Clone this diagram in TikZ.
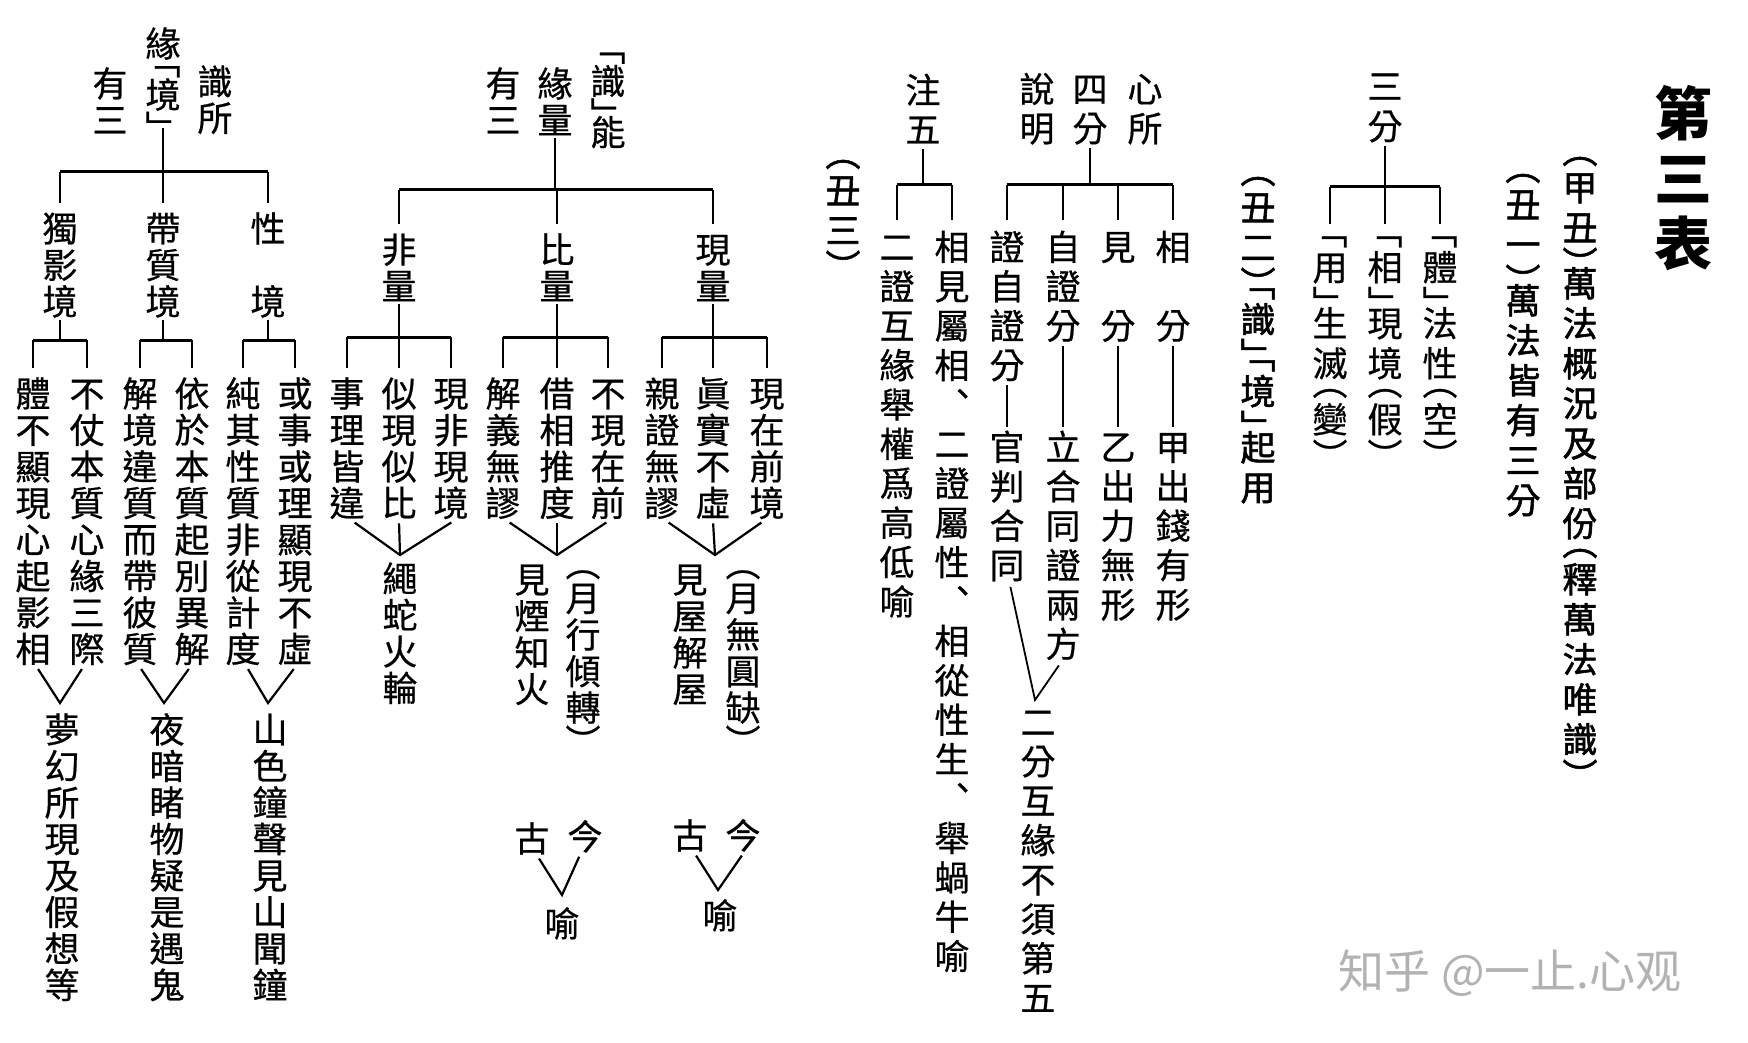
\documentclass[tikz,border=0pt]{standalone}
\usepackage{fontspec}
\newfontfamily\cjk[FakeBold=0.6]{Noto Sans CJK TC}
\newfontfamily\cjkt{Noto Sans CJK TC}
\newfontfamily\cjkh[FakeBold=1.6]{Noto Sans CJK TC}
\newfontfamily\cjksc{Noto Sans CJK SC}

% vertical text: one cell per character, brackets in half cells
\newdimen\vp \vp=36.5pt
\def\vLB{﹁}\def\vRB{﹂}\def\vLP{︵}\def\vRP{︶}
\makeatletter
\newcommand\fullcell{\hbox to 1em{\hss\vrule width 0pt height \dimexpr.5\vp+.38em\relax depth \dimexpr.5\vp-.38em\relax\vch\hss}}
\newcommand\halfcell[1]{\hbox to 1em{\hss\vrule width 0pt height .2\vp depth .2\vp\smash{\raisebox{#1}{\vch}}\hss}}
\newcommand\vcell{%
	\ifx\vch\vLB\halfcell{-.15em}\else
	\ifx\vch\vRB\halfcell{-.6em}\else
	\ifx\vch\vLP\halfcell{-.12em}\else
	\ifx\vch\vRP\halfcell{-.62em}\else
	\fullcell\fi\fi\fi\fi}
\newcommand\vt[1]{\vbox{\offinterlineskip\@tfor\vch:=#1\do{\vcell}}}
\makeatother

\begin{document}
\begin{tikzpicture}[
	x=1pt, y=-1pt,
	tx/.style = {font=\cjk\fontsize{35}{35}\selectfont, inner sep=0pt, anchor=north},
	hd/.style = {font=\cjkh\fontsize{35}{35}\selectfont, inner sep=0pt, anchor=north},
	tt/.style = {font=\cjkt\bfseries\fontsize{58}{58}\selectfont, inner sep=0pt, anchor=north},
	pitch/.style = {execute at begin node={\vp=#1}},
	st/.style = {line width=1.6pt},
	br/.style = {line width=3pt},
	dr/.style = {line width=1.6pt, shorten >=7pt},
	ve/.style = {line width=2.2pt, shorten <=2pt, shorten >=2pt}
	]
	
	\fill[white] (0, 0) rectangle (1748, 1043);
	\useasboundingbox (0, 0) rectangle (1748, 1043);
	
	% ===== ===== ===== ===== =====
	
	% Nodes
	\node[tx]	(Ayuan)	at	(163, 25)	{\vt{緣﹁境﹂}};
	\node[tx]	(Ashi)	at	(215, 63)	{\vt{識所}};
	\node[tx]	(Ayou)	at	(110, 65)	{\vt{有三}};
	\coordinate	(Ab)	at	(163, 172);
	
	\node[tx]	(Adu)	at	(60, 210)	{\vt{獨影境}};
	\node[tx]	(Adai)	at	(163, 210)	{\vt{帶質境}};
	\node[tx]	(Axing)	at	(268, 210)	{\vt{性　境}};
	\coordinate	(Ab1)	at	(60, 340);
	\coordinate	(Ab2)	at	(163, 340);
	\coordinate	(Ab3)	at	(268, 340);
	
	\node[tx]	(A11)	at	(33, 375)	{\vt{體不顯現心起影相}};
	\node[tx]	(A12)	at	(87, 375)	{\vt{不仗本質心緣三際}};
	\node[tx]	(A21)	at	(140, 375)	{\vt{解境違質而帶彼質}};
	\node[tx]	(A22)	at	(192, 375)	{\vt{依於本質起別異解}};
	\node[tx]	(A31)	at	(243, 375)	{\vt{純其性質非從計度}};
	\node[tx]	(A32)	at	(295, 375)	{\vt{或事或理顯現不虛}};
	
	\coordinate	(A1v)	at	(60, 703);
	\coordinate	(A2v)	at	(164, 703);
	\coordinate	(A3v)	at	(268, 703);
	\node[tx]	(A1c)	at	(62, 711)	{\vt{夢幻所現及假想等}};
	\node[tx]	(A2c)	at	(167, 711)	{\vt{夜暗睹物疑是遇鬼}};
	\node[tx]	(A3c)	at	(270, 711)	{\vt{山色鐘聲見山聞鐘}};
	
	% Lines
	\draw[st]	(Ayuan.south)	--	(Ab);
	\draw[br]	(Ab -| Adu.north)	--	(Ab -| Axing.north);
	\draw[dr]	(Ab -| Adu.north)	--	(Adu.north);
	\draw[dr]	(Ab)	--	(Adai.north);
	\draw[dr]	(Ab -| Axing.north)	--	(Axing.north);
	
	\draw[st]	(Adu.south)	--	(Ab1);
	\draw[st]	(Adai.south)	--	(Ab2);
	\draw[st]	(Axing.south)	--	(Ab3);
	\draw[br]	(Ab1 -| A11.north)	--	(Ab1 -| A12.north);
	\draw[br]	(Ab2 -| A21.north)	--	(Ab2 -| A22.north);
	\draw[br]	(Ab3 -| A31.north)	--	(Ab3 -| A32.north);
	\draw[dr]	(Ab1 -| A11.north)	--	(A11.north);
	\draw[dr]	(Ab1 -| A12.north)	--	(A12.north);
	\draw[dr]	(Ab2 -| A21.north)	--	(A21.north);
	\draw[dr]	(Ab2 -| A22.north)	--	(A22.north);
	\draw[dr]	(Ab3 -| A31.north)	--	(A31.north);
	\draw[dr]	(Ab3 -| A32.north)	--	(A32.north);
	
	\draw[ve]	([xshift=4pt]A11.south)	--	(A1v)	--	([xshift=-4pt]A12.south);
	\draw[ve]	(A21.south)	--	(A2v)	--	([xshift=-2pt]A22.south);
	\draw[ve]	([xshift=4pt]A31.south)	--	(A3v)	--	(A32.south);
	
	
	
	
	
	% ===== ===== ===== ===== =====
	
	% Nodes
	\node[tx]	(Bshi)	at	(608, 48)	{\vt{﹁識﹂能}};
	\node[tx]	(Byuan)	at	(555, 65)	{\vt{緣量}};
	\node[tx]	(Byou)	at	(503, 65)	{\vt{有三}};
	\coordinate	(Bb)	at	(555, 190);
	
	\node[tx]	(Bfei)	at	(399, 231)	{\vt{非量}};
	\node[tx]	(Bbi)	at	(557, 231)	{\vt{比量}};
	\node[tx]	(Bxian)	at	(713, 231)	{\vt{現量}};
	\coordinate	(Bb1)	at	(399, 337);
	\coordinate	(Bb2)	at	(557, 337);
	\coordinate	(Bb3)	at	(713, 337);
	
	\node[tx]	(B11)	at	(347, 375)	{\vt{事理皆違}};
	\node[tx]	(B12)	at	(399, 375)	{\vt{似現似比}};
	\node[tx]	(B13)	at	(451, 375)	{\vt{現非現境}};
	\node[tx]	(B21)	at	(503, 375)	{\vt{解義無謬}};
	\node[tx]	(B22)	at	(557, 375)	{\vt{借相推度}};
	\node[tx]	(B23)	at	(608, 375)	{\vt{不現在前}};
	\node[tx]	(B31)	at	(662, 375)	{\vt{親證無謬}};
	\node[tx]	(B32)	at	(713, 375)	{\vt{眞實不虛}};
	\node[tx]	(B33)	at	(767, 375)	{\vt{現在前境}};
	
	\coordinate	(Bv1)	at	(400, 555);
	\coordinate	(Bv2)	at	(557, 555);
	\coordinate	(Bv3)	at	(715, 555);
	\node[tx]	(B1c)	at	(400, 560)	{\vt{繩蛇火輪}};
	\node[tx]	(B2c)	at	(532, 561)	{\vt{見煙知火}};
	\node[tx]	(B2d)	at	(583, 565)	{\vt{︵月行傾轉︶}};
	\node[tx]	(B3c)	at	(690, 561)	{\vt{見屋解屋}};
	\node[tx]	(B3d)	at	(743, 565)	{\vt{︵月無圓缺︶}};
	
	\node[tx]	(Bgu1)	at	(532, 820)	{\vt{古}};
	\node[tx]	(Bjin1)	at	(585, 818)	{\vt{今}};
	\coordinate	(Byv1)	at	(562, 895);
	\node[tx]	(Byu1)	at	(562, 905)	{\vt{喻}};
	\node[tx]	(Bgu2)	at	(690, 817)	{\vt{古}};
	\node[tx]	(Bjin2)	at	(743, 817)	{\vt{今}};
	\coordinate	(Byv2)	at	(718, 890);
	\node[tx]	(Byu2)	at	(720, 897)	{\vt{喻}};
	
	% Lines
	\draw[st]	(Byuan.south)	--	(Bb);
	\draw[br]	(Bb -| Bfei.north)	--	(Bb -| Bxian.north);
	\draw[dr]	(Bb -| Bfei.north)	--	(Bfei.north);
	\draw[dr]	(Bb -| Bbi.north)	--	(Bbi.north);
	\draw[dr]	(Bb -| Bxian.north)	--	(Bxian.north);
	
	\draw[st]	(Bfei.south)	--	(Bb1);
	\draw[st]	(Bbi.south)	--	(Bb2);
	\draw[st]	(Bxian.south)	--	(Bb3);
	\draw[br]	(Bb1 -| B11.north)	--	(Bb1 -| B13.north);
	\draw[br]	(Bb2 -| B21.north)	--	(Bb2 -| B23.north);
	\draw[br]	(Bb3 -| B31.north)	--	(Bb3 -| B33.north);
	\draw[dr]	(Bb1 -| B11.north)	--	(B11.north);
	\draw[dr]	(Bb1)	--	(B12.north);
	\draw[dr]	(Bb1 -| B13.north)	--	(B13.north);
	\draw[dr]	(Bb2 -| B21.north)	--	(B21.north);
	\draw[dr]	(Bb2)	--	(B22.north);
	\draw[dr]	(Bb2 -| B23.north)	--	(B23.north);
	\draw[dr]	(Bb3 -| B31.north)	--	(B31.north);
	\draw[dr]	(Bb3)	--	(B32.north);
	\draw[dr]	(Bb3 -| B33.north)	--	(B33.north);
	
	\draw[ve]	([xshift=6pt]B11.south)	--	(Bv1)	--	([xshift=2pt]B13.south);
	\draw[ve, shorten >=0pt]	(B12.south)	--	(Bv1);
	\draw[ve]	([xshift=5pt]B21.south)	--	(Bv2)	--	(B23.south);
	\draw[ve, shorten >=0pt]	(B22.south)	--	(Bv2);
	\draw[ve]	([xshift=5pt]B31.south)	--	(Bv3)	--	([xshift=-4pt]B33.south);
	\draw[ve, shorten >=0pt]	(B32.south)	--	(Bv3);
	
	\draw[ve]	([xshift=6pt]Bgu1.south)	--	(Byv1)	--	([xshift=-5pt]Bjin1.south);
	\draw[ve]	([xshift=5pt]Bgu2.south)	--	(Byv2)	--	(Bjin2.south);
	
	
	
	
	
	% ===== ===== ===== ===== =====
	
	% Nodes
	\node[hd, pitch=40pt]	(H3)	at	(843, 154)	{\vt{︵丑三︶}};
	
	\node[tx, pitch=39.4pt]	(Czhu)	at	(923, 70)	{\vt{注五}};
	\node[tx, pitch=39.4pt]	(Cshuo)	at	(1037, 69)	{\vt{說明}};
	\node[tx, pitch=39.4pt]	(Csi)	at	(1090, 69)	{\vt{四分}};
	\node[tx, pitch=39.4pt]	(Cxin)	at	(1145, 69)	{\vt{心所}};
	\coordinate	(Cb1)	at	(923, 185);
	\coordinate	(Cb2)	at	(1090, 185);
	
	\node[tx, pitch=39.4pt]	(C11)	at	(897, 227)	{\vt{二證互緣舉權爲高低喻}};
	\node[tx, pitch=39.4pt]	(C12)	at	(952, 227)	{\vt{相見屬相︑二證屬性︑相從性生︑舉蝸牛喻}};
	\node[tx, pitch=39.4pt]	(C21)	at	(1007, 227)	{\vt{證自證分}};
	\node[tx, pitch=39.4pt]	(C22)	at	(1063, 227)	{\vt{自證分}};
	\node[tx, pitch=39.4pt]	(C23)	at	(1118, 227)	{\vt{見　分}};
	\node[tx, pitch=39.4pt]	(C24)	at	(1173, 227)	{\vt{相　分}};
	
	\node[tx, pitch=39.4pt]	(C21b)	at	(1007, 427)	{\vt{官判合同}};
	\node[tx, pitch=39.4pt]	(C22b)	at	(1063, 427)	{\vt{立合同證兩方}};
	\node[tx, pitch=39.4pt]	(C23b)	at	(1118, 427)	{\vt{乙出力無形}};
	\node[tx, pitch=39.4pt]	(C24b)	at	(1173, 427)	{\vt{甲出錢有形}};
	
	\coordinate	(Cv)	at	(1035, 700);
	\node[tx, pitch=39.4pt]	(C2c)	at	(1038, 702)	{\vt{二分互緣不須第五}};
	
	% Lines
	\draw[st]	(Czhu.south)	--	(Cb1);
	\draw[br]	(Cb1 -| C11.north)	--	(Cb1 -| C12.north);
	\draw[dr]	(Cb1 -| C11.north)	--	(C11.north);
	\draw[dr]	(Cb1 -| C12.north)	--	(C12.north);
	
	\draw[st]	(Csi.south)	--	(Cb2);
	\draw[br]	(Cb2 -| C21.north)	--	(Cb2 -| C24.north);
	\draw[dr]	(Cb2 -| C21.north)	--	(C21.north);
	\draw[dr]	(Cb2 -| C22.north)	--	(C22.north);
	\draw[dr]	(Cb2 -| C23.north)	--	(C23.north);
	\draw[dr]	(Cb2 -| C24.north)	--	(C24.north);
	
	\draw[st]	(C21.south)	--	(C21b.north);
	\draw[st]	(C22.south)	--	(C22b.north);
	\draw[st]	(C23.south)	--	(C23b.north);
	\draw[st]	(C24.south)	--	(C24b.north);
	
	\draw[ve, line width=1.8pt]	([xshift=3pt]C21b.south)	--	(Cv)	--	([xshift=-3pt]C22b.south);
	
	
	
	
	
	% ===== ===== ===== ===== =====
	
	% Nodes
	\node[tx, pitch=40pt]	(Dsan)	at	(1385, 66)	{\vt{三分}};
	\coordinate	(Db)	at	(1385, 187);
	
	\node[tx, pitch=40pt]	(D1)	at	(1330, 231)	{\vt{﹁用﹂生滅︵變︶}};
	\node[tx, pitch=40pt]	(D2)	at	(1385, 231)	{\vt{﹁相﹂現境︵假︶}};
	\node[tx, pitch=40pt]	(D3)	at	(1440, 231)	{\vt{﹁體﹂法性︵空︶}};
	
	\node[hd, pitch=40pt]	(H2)	at	(1258, 171)	{\vt{︵丑二︶﹁識﹂﹁境﹂起用}};
	\node[hd, pitch=40pt]	(H1)	at	(1523, 168)	{\vt{︵丑一︶萬法皆有三分}};
	\node[hd, pitch=40pt]	(H0)	at	(1580, 151)	{\vt{︵甲丑︶萬法概況及部份︵釋萬法唯識︶}};
	\node[tt, pitch=65pt]	(T)	at	(1683, 81)	{\vt{第三表}};
	
	\node[font=\cjksc\fontsize{46}{46}\selectfont, text=black!30]	(W)	at	(1510, 973)	{知乎 @一止.心观};
	
	% Lines
	\draw[st]	(Dsan.south)	--	(Db);
	\draw[br]	(Db -| D1.north)	--	(Db -| D3.north);
	\draw[dr]	(Db -| D1.north)	--	(D1.north);
	\draw[dr]	(Db)	--	(D2.north);
	\draw[dr]	(Db -| D3.north)	--	(D3.north);
	
\end{tikzpicture}
\end{document}
